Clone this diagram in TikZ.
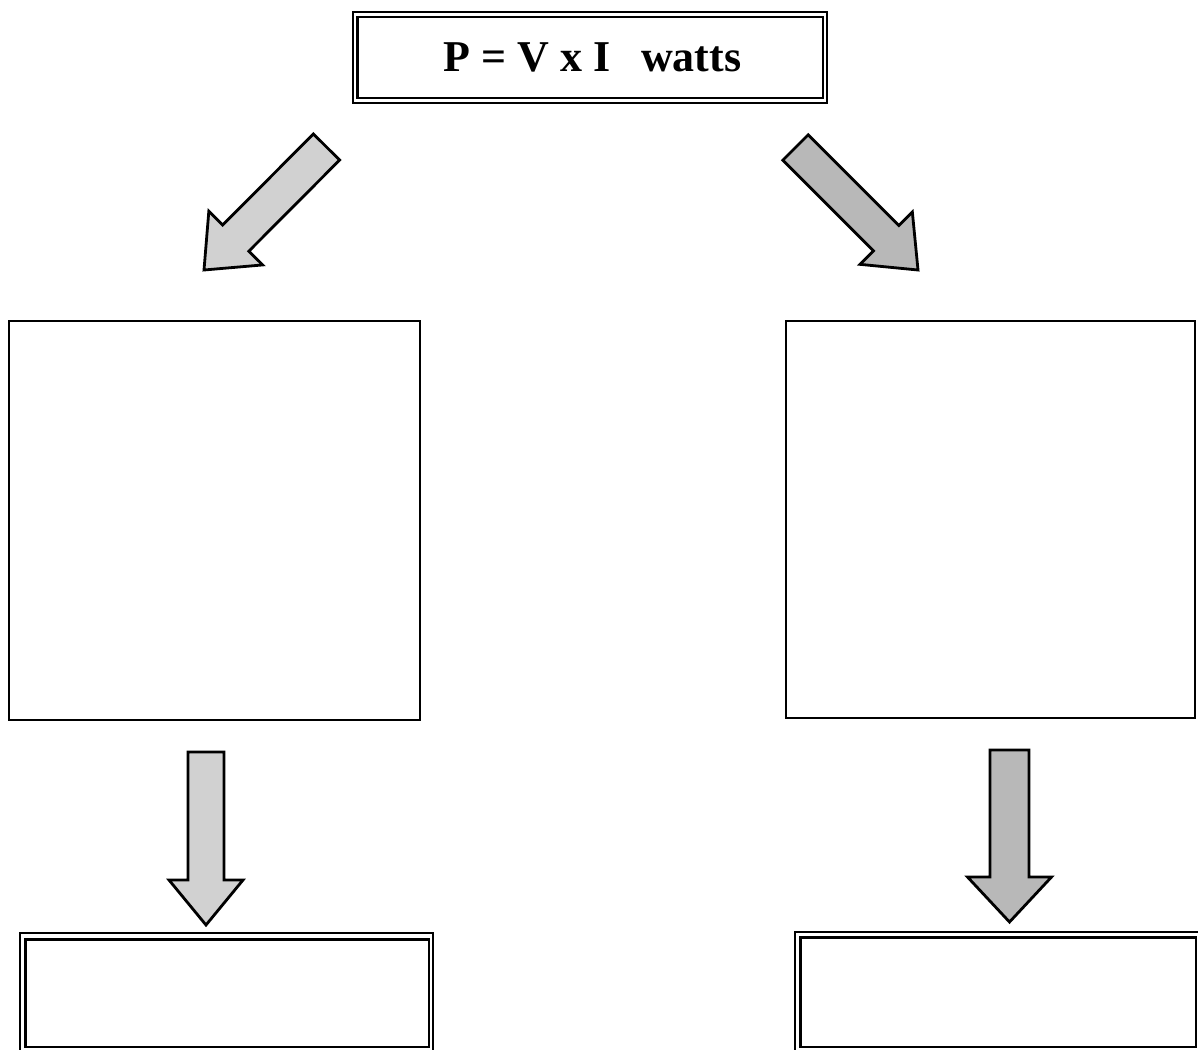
\documentclass[tikz,border=0pt]{standalone}
\usepackage{fontspec}
\setmainfont{Liberation Serif}
\usetikzlibrary{calc}

% block arrow: #1 tail point, #2 tip point, #3 fill, #4 shaft half width, #5 head half width
\newcommand\blockarr[5]{%
  \coordinate (hb) at ($(#2)!45pt!(#1)$);
  \draw[blockarrow, fill=#3]
    ($(#1)!#4!90:(#2)$) -- ($(hb)!#4!-90:(#1)$) -- ($(hb)!#5!-90:(#1)$) -- (#2)
    -- ($(hb)!#5!90:(#1)$) -- ($(hb)!#4!90:(#1)$) -- ($(#1)!#4!-90:(#2)$) -- cycle;}

\definecolor{stippleA}{gray}{0.82}
\definecolor{stippleB}{gray}{0.72}

\begin{document}
\begin{tikzpicture}[x=1pt,y=-1pt,
  box/.style={draw, line width=1.6pt, inner sep=0pt},
  innerframe/.style={draw, line width=2.6pt},
  blockarrow/.style={draw, line width=2.8pt, line join=miter},
  eqtext/.style={inner sep=0pt, font=\fontsize{44}{50}\selectfont\bfseries},
]
\useasboundingbox (0,0) rectangle (1198,1049);
\clip (0,0) rectangle (1198,1049);

% formula box with double frame
\node[box, minimum width=474pt, minimum height=91pt] (eq) at (590,57.5) {};
\draw[innerframe] ([shift={(5pt,-6pt)}]eq.north west) rectangle ([shift={(-5pt,6pt)}]eq.south east);
\node[eqtext] (eqt) at ([xshift=2.5pt]eq.center)
  {P = V x I\hspace{0.7em}watts};

% two large empty boxes
\node[box, minimum width=411pt, minimum height=399pt] (lbox) at (214.5,520.5) {};
\node[box, minimum width=409pt, minimum height=397pt] (rbox) at (990.5,519.5) {};

% two result boxes with double frame
\node[box, minimum width=413pt, minimum height=119pt] (lres) at (226.5,992.5) {};
\draw[innerframe] ([shift={(6pt,-7pt)}]lres.north west) rectangle ([shift={(-5pt,6pt)}]lres.south east);
\node[box, minimum width=405pt, minimum height=120pt] (rres) at (997.5,992) {};
\draw[innerframe] ([shift={(6pt,-6pt)}]rres.north west) rectangle ([shift={(-5pt,6pt)}]rres.south east);

% arrow end points
\coordinate (la) at (326.5,147);
\coordinate (lat) at (204,270);
\coordinate (ra) at (795.5,147.5);
\coordinate (rat) at (918,270);
\coordinate (lv) at (206,752);
\coordinate (lvt) at (206,925);
\coordinate (rv) at (1009.5,750);
\coordinate (rvt) at (1009.5,922);

\blockarr{la}{lat}{stippleA}{18.5pt}{38pt}
\blockarr{ra}{rat}{stippleB}{18pt}{37pt}
\blockarr{lv}{lvt}{stippleA}{18pt}{37pt}
\blockarr{rv}{rvt}{stippleB}{19.5pt}{42pt}
\end{tikzpicture}
\end{document}
